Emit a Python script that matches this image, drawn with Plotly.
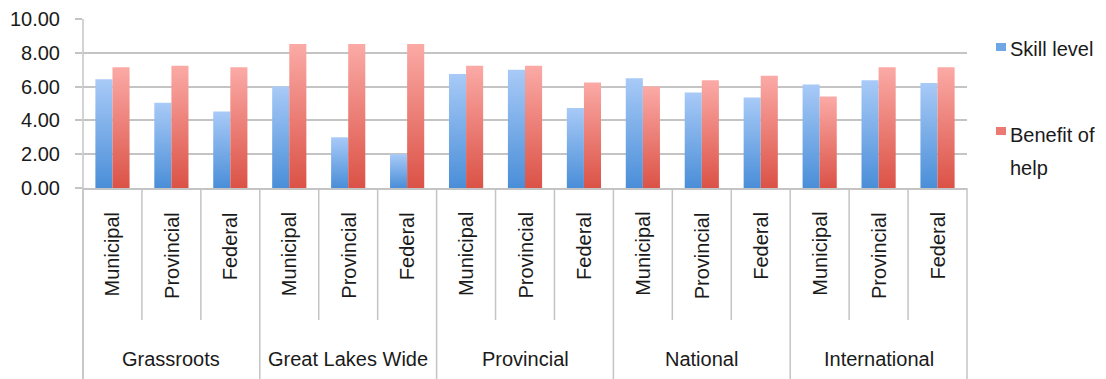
import plotly.graph_objects as go

# ---- data -------------------------------------------------------------
groups = ["Grassroots", "Great Lakes Wide", "Provincial", "National", "International"]
levels = ["Municipal", "Provincial", "Federal"]
skill_level = [6.43, 5.04, 4.53, 6.00, 3.00, 2.00, 6.74, 7.00, 4.74,
               6.50, 5.65, 5.36, 6.13, 6.37, 6.21]
benefit_of_help = [7.15, 7.23, 7.15, 8.52, 8.52, 8.52, 7.23, 7.23, 6.25,
                   6.00, 6.37, 6.64, 5.42, 7.14, 7.14]
y_ticks = [0, 2, 4, 6, 8, 10]
series_names = ["Skill level", "Benefit of help"]

# ---- geometry / style -------------------------------------------------
W, H = 1106, 379
L, R, T, B = 83, 967, 19, 188          # plot area in pixels
FONT = "Liberation Sans, Arial, sans-serif"
TEXT = "#1a1a1a"
GRID = "#c4c4c4"
BAR_HALF = 0.29                         # bar width in category units

blue = dict(bottom="#4a8ed8", top="#a8caf7", key="#6fa6e4")
red = dict(bottom="#db5246", top="#fbaaa6", key="#ea7a72")

n_cat = len(groups) * len(levels)


def px_x(px):
    return (px - L) / (R - L)


def px_y(py):
    return (B - py) / (B - T)


fig = go.Figure()

# gradient-filled bars, each one drawn as a closed region on the data axes
for values, col, side in ((skill_level, blue, -1), (benefit_of_help, red, 1)):
    for i, v in enumerate(values):
        x0, x1 = sorted((i, i + side * BAR_HALF))
        fig.add_trace(go.Scatter(
            x=[x0, x1, x1, x0, x0], y=[0, 0, v, v, 0],
            mode="lines", line=dict(width=0),
            fill="toself",
            fillgradient=dict(type="vertical",
                              colorscale=[[0, col["bottom"]], [1, col["top"]]]),
            showlegend=False, hoverinfo="skip",
        ))

shapes = []
annotations = []

# category separators below the axis: short ones between levels,
# long ones between groups
for k in range(n_cat + 1):
    xp = k / n_cat
    bottom = px_y(H) if k % len(levels) == 0 else px_y(320)
    shapes.append(dict(type="line", xref="paper", yref="paper",
                       x0=xp, x1=xp, y0=bottom, y1=0,
                       line=dict(color=GRID, width=1.5)))
# vertical axis line running the full height
shapes.append(dict(type="line", xref="paper", yref="paper",
                   x0=0, x1=0, y0=px_y(H), y1=1,
                   line=dict(color=GRID, width=1.5)))

# level labels (rotated) and group labels
for g, grp in enumerate(groups):
    for j, lev in enumerate(levels):
        idx = g * len(levels) + j
        annotations.append(dict(x=idx, xref="x", y=px_y(210), yref="paper",
                                text=lev, textangle=-90, showarrow=False,
                                xanchor="center", yanchor="top",
                                font=dict(family=FONT, size=20, color=TEXT)))
    annotations.append(dict(x=g * len(levels) + 1, xref="x", y=px_y(359), yref="paper",
                            text=grp, showarrow=False,
                            xanchor="center", yanchor="middle",
                            font=dict(family=FONT, size=20, color=TEXT)))

# legend
legend_items = [
    (blue, [(49, "Skill level")], 47),
    (red, [(135, "Benefit of"), (168, "help")], 131),
]
for col, lines, sq_y in legend_items:
    shapes.append(dict(type="rect", xref="paper", yref="paper",
                       x0=px_x(996), x1=px_x(1006),
                       y0=px_y(sq_y + 4), y1=px_y(sq_y - 4),
                       line=dict(width=0), fillcolor=col["key"]))
    for cy, txt in lines:
        annotations.append(dict(x=px_x(1008), xref="paper", y=px_y(cy), yref="paper",
                                text=txt, showarrow=False,
                                xanchor="left", yanchor="middle",
                                font=dict(family=FONT, size=20, color=TEXT)))

fig.update_layout(
    width=W, height=H,
    margin=dict(l=L, r=W - R, t=T, b=H - B, pad=0, autoexpand=False),
    paper_bgcolor="white", plot_bgcolor="white",
    showlegend=False,
    shapes=shapes, annotations=annotations,
    xaxis=dict(range=[-0.5, n_cat - 0.5], showticklabels=False, showgrid=False,
               zeroline=False, showline=True, linecolor=GRID, linewidth=1.5,
               automargin=False, fixedrange=True),
    yaxis=dict(range=[0, 10], tickvals=y_ticks,
               ticktext=[f"{v:.2f}" for v in y_ticks],
               showgrid=True, gridcolor=GRID, gridwidth=1.5,
               zeroline=False, showline=False,
               ticks="outside", ticklen=7, tickcolor=GRID, tickwidth=1.5,
               ticklabelstandoff=11, automargin=False,
               tickfont=dict(family=FONT, size=20, color=TEXT),
               fixedrange=True),
)

fig.write_html("out.html")
